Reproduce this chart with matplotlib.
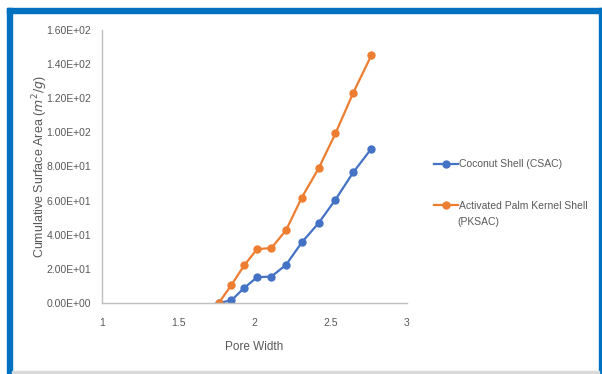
import numpy as np
import matplotlib
matplotlib.use('Agg')
import matplotlib.pyplot as plt
from matplotlib.patches import Rectangle
from matplotlib.ticker import FuncFormatter

# values
pore_width = [1.766, 1.849, 1.932, 2.017, 2.111, 2.207, 2.31, 2.421, 2.531, 2.647, 2.766]
csac = [0.0, 1.6, 8.8, 15.1, 15.5, 22.4, 35.5, 46.9, 60.6, 76.5, 90.4]
pksac = [0.0, 10.6, 22.0, 31.6, 32.2, 42.7, 61.8, 79.0, 99.4, 123.1, 145.1]
labels = ['Coconut Shell (CSAC)', 'Activated Palm Kernel Shell']
label_tail = '(PKSAC)'

blue = '#4472C4'
orange = '#ED7D31'
grey_txt = '#595959'
frame_blue = '#0070C0'

plt.rcParams['font.family'] = ['Liberation Sans', 'DejaVu Sans']
plt.rcParams['font.size'] = 7.5

W, H = 602, 374
fig = plt.figure(figsize=(W / 100, H / 100), dpi=100)

# frame around the picture
def px_rect(x0, y0, x1, y1, color):
    fig.patches.append(Rectangle((x0 / W, 1 - y1 / H), (x1 - x0) / W, (y1 - y0) / H,
                                 transform=fig.transFigure, color=color, zorder=0))

px_rect(7, 8, 602, 13, frame_blue)
px_rect(7, 8, 12, 374, frame_blue)
px_rect(599, 8, 602, 374, frame_blue)
px_rect(12, 371, 599, 374, '#D9D9D9')

ax = fig.add_axes([102 / W, 1 - 303 / H, (407 - 102) / W, (303 - 30) / H])
ax.plot(pore_width, csac, '-o', color=blue, lw=1.6, ms=5, label=labels[0])
ax.plot(pore_width, pksac, '-o', color=orange, lw=1.6, ms=5, label=labels[1])

ax.set_xlim(1, 3)
ax.set_ylim(0, 160)
ax.set_xticks([1, 1.5, 2, 2.5, 3])
ax.set_xticklabels(['1', '1.5', '2', '2.5', '3'])
ax.set_yticks(np.arange(0, 161, 20))
ax.yaxis.set_major_formatter(FuncFormatter(lambda v, p: '%.2E' % v))

for s in ['top', 'right']:
    ax.spines[s].set_visible(False)
for s in ['left', 'bottom']:
    ax.spines[s].set_color('#BFBFBF')
    ax.spines[s].set_linewidth(1.0)
ax.tick_params(length=0, colors=grey_txt, labelsize=7.5)
ax.tick_params(axis='y', pad=8)
ax.tick_params(axis='x', pad=11)

ax.set_xlabel('Pore Width', color=grey_txt, fontsize=8.5, labelpad=9)
ax.set_ylabel(r'Cumulative Surface Area ($m^2/g$)', color=grey_txt, fontsize=9, labelpad=-3)

leg = ax.legend(loc='upper left', bbox_to_anchor=(425 / W, 1 - 150 / H),
                bbox_transform=fig.transFigure, frameon=False, fontsize=7.5,
                handlelength=2.3, handletextpad=0.1, labelspacing=3.0)
for t in leg.get_texts():
    t.set_color(grey_txt)
fig.text(457 / W, 1 - 222 / H, label_tail, color=grey_txt, fontsize=7.5, va='center')

fig.savefig('out.png', dpi=100)
